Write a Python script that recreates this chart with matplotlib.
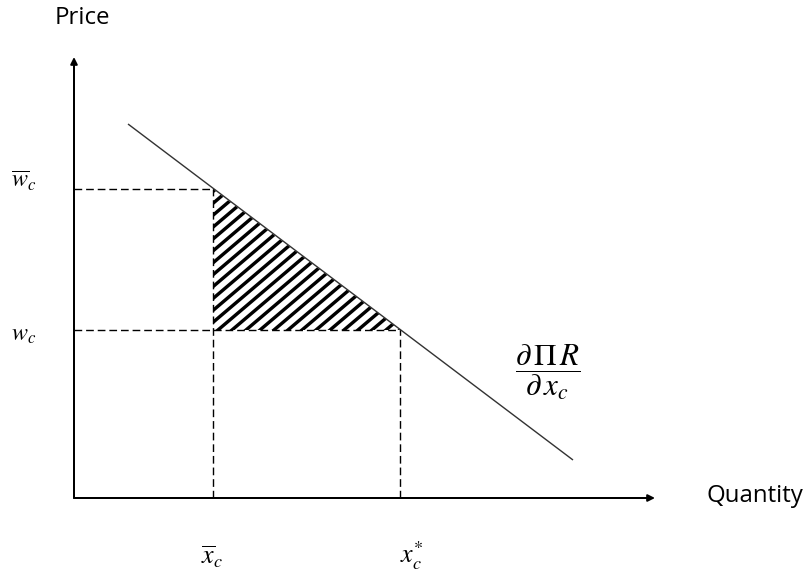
import matplotlib
matplotlib.use('Agg')
import matplotlib.pyplot as plt
import numpy as np
from matplotlib.collections import LineCollection
from matplotlib.patches import Polygon

# values (1 unit = 100 px of the original)
quantity_marks = [1.39, 3.26]          # x-bar_c, x*_c
price_marks = [3.09, 1.68]             # w-bar_c, w_c
demand_q = [0.54, 4.99]
demand_p = [3.74, 0.38]
axis_end = [5.81, 4.41]                # x-axis tip, y-axis tip
quantity_labels = [r'$\overline{x}_c$', r'$x_c^{*}$']
price_labels = [r'$\overline{w}_c$', r'$w_c$']

DPI = 100
PT = 72 / DPI  # points per pixel

plt.rcParams['mathtext.fontset'] = 'stix'
plt.rcParams['font.family'] = ['Open Sans', 'DejaVu Sans']

fig = plt.figure(figsize=(807 / DPI, 579 / DPI), dpi=DPI)
ax = fig.add_axes([0, 0, 1, 1])
ax.set_xlim(-0.74, 7.33)
ax.set_ylim(-0.81, 4.98)
ax.axis('off')

# axes with arrow heads
arrow = dict(arrowstyle='-|>', color='black', lw=2 * PT,
             mutation_scale=14 * PT, shrinkA=0, shrinkB=0)
ax.annotate('', xy=(axis_end[0], 0), xytext=(0, 0), arrowprops=arrow)
ax.annotate('', xy=(0, axis_end[1]), xytext=(0, 0), arrowprops=arrow)

# demand curve
ax.plot(demand_q, demand_p, color='#333333', lw=1.4 * PT, solid_capstyle='butt')

# dashed guides
dash = dict(color='black', lw=1.4 * PT, linestyle=(0, (5.5, 2.8)))
ax.plot([0, quantity_marks[0]], [price_marks[0]] * 2, **dash)
ax.plot([0, quantity_marks[1]], [price_marks[1]] * 2, **dash)
ax.plot([quantity_marks[0]] * 2, [0, price_marks[0]], **dash)
ax.plot([quantity_marks[1]] * 2, [0, price_marks[1]], **dash)

# hatched surplus triangle: diagonal strokes clipped to the triangle
tri = Polygon([[quantity_marks[0], price_marks[0]],
               [quantity_marks[0], price_marks[1]],
               [quantity_marks[1], price_marks[1]]],
              closed=True, facecolor='none', edgecolor='none')
ax.add_patch(tri)
x0, x1 = quantity_marks
y0, y1 = price_marks[1], price_marks[0]
slope = 0.85
step = 0.14 * slope
offsets = np.arange(y0 - slope * x1, y1 - slope * x0 + step, step)
segs = [[(x0 - 0.5, slope * (x0 - 0.5) + c), (x1 + 0.5, slope * (x1 + 0.5) + c)]
        for c in offsets]
hatch = LineCollection(segs, colors='black', linewidths=3.4 * PT)
ax.add_collection(hatch)
hatch.set_clip_path(tri)

# labels
ax.text(quantity_marks[0] - 0.01, -0.59, quantity_labels[0],
        fontsize=26 * PT, ha='center', va='center')
ax.text(quantity_marks[1] + 0.12, -0.58, quantity_labels[1],
        fontsize=26 * PT, ha='center', va='center')
ax.text(-0.5, price_marks[0] + 0.07, price_labels[0],
        fontsize=24 * PT, ha='center', va='center')
ax.text(-0.5, price_marks[1] - 0.05, price_labels[1],
        fontsize=24 * PT, ha='center', va='center')

ax.text(4.74, 1.26, r'$\dfrac{\partial\,\Pi\, R}{\partial\, x_c}$',
        fontsize=31 * PT, ha='center', va='center')

ax.text(0.08, 4.80, 'Price', fontsize=24 * PT, ha='center', va='center')
ax.text(6.81, 0.02, 'Quantity', fontsize=24 * PT, ha='center', va='center')

fig.savefig('out.png', dpi=DPI)
